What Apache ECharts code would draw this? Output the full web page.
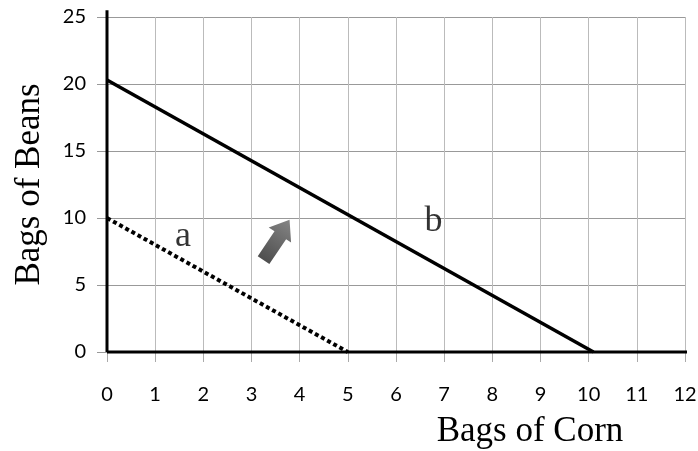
<!DOCTYPE html>
<html>
<head>
<meta charset="utf-8">
<script src="https://cdn.jsdelivr.net/npm/echarts@6/dist/echarts.min.js"></script>
<style>
  html, body { margin: 0; padding: 0; background: #fff; }
  #chart { width: 698px; height: 451px; }
</style>
</head>
<body>
<div id="chart"></div>
<script>
    // budget lines (corn, beans)
    var lineA = [[0, 10], [5, 0]];
    var lineB = [[0, 20.3], [10.1, 0]];
    // hand drawn axes, a bit longer than the grid
    var axisX = [[0, 0], [12.27, 0]];
    var axisY = [[0, 0], [0, 25.5]];
    var labelPoints = [[1.58, 8.6, 'a'], [6.78, 9.7, 'b']];
    var arrowPoint = [[3.52, 8.36]];
    var xTicks = [0, 1, 2, 3, 4, 5, 6, 7, 8, 9, 10, 11, 12];
    var yTicks = [0, 5, 10, 15, 20, 25];

    var chart = echarts.init(document.getElementById('chart'));
    var tickFont = { fontFamily: 'Lato', fontSize: 20, color: '#000' };

    var option = {
        animation: false,
        grid: { left: 107, right: 13, top: 17, bottom: 99, outerBoundsMode: 'none', containLabel: false },
        xAxis: {
            type: 'value',
            min: xTicks[0],
            max: xTicks[xTicks.length - 1],
            interval: 1,
            name: 'Bags of Corn',
            nameLocation: 'middle',
            nameGap: 62,
            nameTextStyle: { fontFamily: 'Liberation Serif', fontSize: 35, color: '#000', padding: [0, 0, 0, 268] },
            axisLine: { show: false },
            axisTick: { show: true, length: 10, lineStyle: { color: '#aaa' } },
            axisLabel: Object.assign({ margin: 33 }, tickFont),
            splitLine: { show: true, lineStyle: { color: '#bbb', width: 1 } }
        },
        yAxis: {
            type: 'value',
            min: yTicks[0],
            max: yTicks[yTicks.length - 1],
            interval: 5,
            name: 'Bags of Beans',
            nameLocation: 'middle',
            nameGap: 60,
            nameTextStyle: { fontFamily: 'Liberation Serif', fontSize: 35, color: '#000' },
            axisLine: { show: false },
            axisTick: { show: true, length: 10, lineStyle: { color: '#999' } },
            axisLabel: Object.assign({ margin: 21 }, tickFont),
            splitLine: { show: true, lineStyle: { color: '#999', width: 1 } }
        },
        series: [
            {
                name: 'axisX', type: 'line', data: axisX, clip: false, symbol: 'none',
                lineStyle: { color: '#000', width: 3 }, z: 3
            },
            {
                name: 'axisY', type: 'line', data: axisY, clip: false, symbol: 'none',
                lineStyle: { color: '#000', width: 3 }, z: 3
            },
            {
                name: 'a', type: 'line', data: lineA, symbol: 'none',
                lineStyle: { color: '#000', width: 4, type: [4, 3] }, z: 4
            },
            {
                name: 'b', type: 'line', data: lineB, symbol: 'none',
                lineStyle: { color: '#000', width: 3.5 }, z: 4
            },
            {
                name: 'labels', type: 'scatter', data: labelPoints, symbolSize: 0,
                label: {
                    show: true, position: 'inside',
                    formatter: function (p) { return p.data[2]; },
                    fontFamily: 'Liberation Serif', fontSize: 36, color: '#000'
                }
            },
            {
                name: 'arrow', type: 'scatter', data: arrowPoint,
                symbol: 'path://M13,0 L27,18 L21,18 L21,48 L7,48 L7,18 L0,18 Z',
                symbolKeepAspect: false,
                symbolSize: [27, 48],
                symbolRotate: -34,
                itemStyle: {
                    color: new echarts.graphic.LinearGradient(0, 0, 0, 1, [
                        { offset: 0, color: '#666' },
                        { offset: 1, color: '#222' }
                    ])
                }
            }
        ]
    };
    chart.setOption(option);
</script>
</body>
</html>
